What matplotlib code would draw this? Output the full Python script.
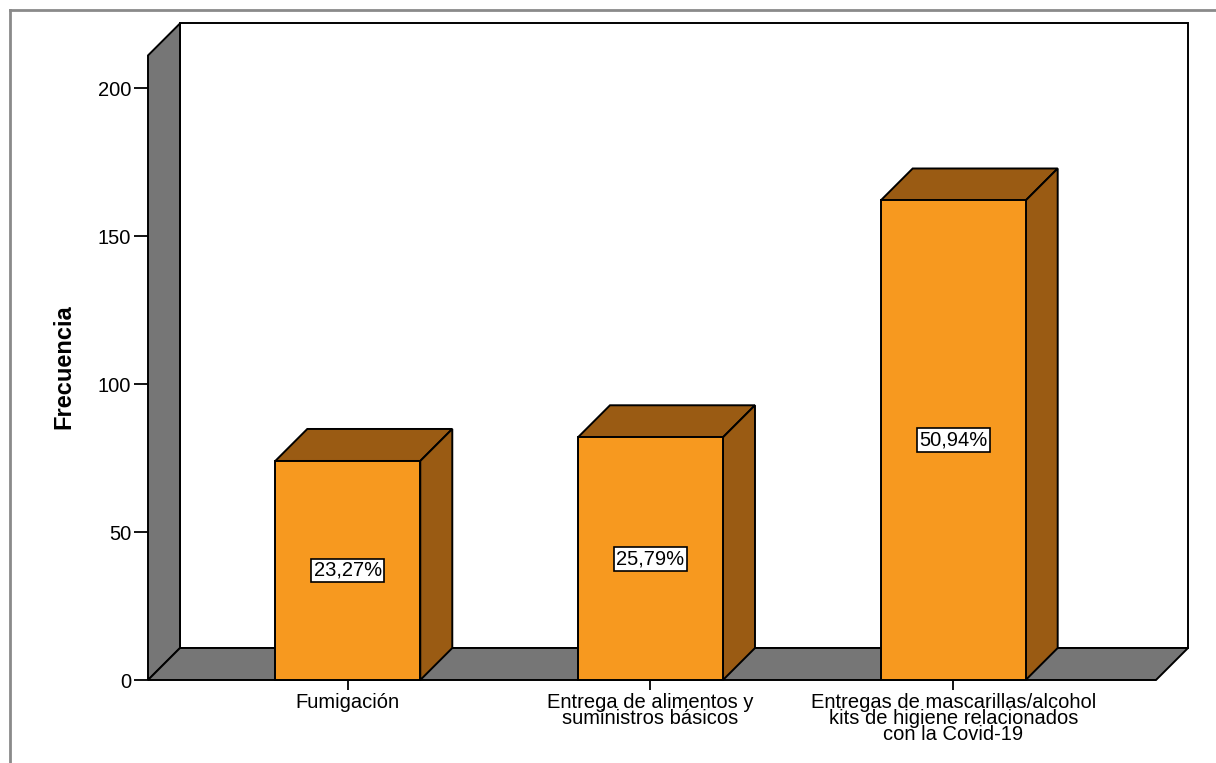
import matplotlib
matplotlib.use("Agg")
import matplotlib.pyplot as plt
from matplotlib.patches import Polygon, Rectangle
from matplotlib.lines import Line2D

categories = ["Fumigación",
              "Entrega de alimentos y\nsuministros básicos",
              "Entregas de mascarillas/alcohol\nkits de higiene relacionados\ncon la Covid-19"]
freq = [74, 82, 162]
pct_labels = ["23,27%", "25,79%", "50,94%"]
yticks = [0, 50, 100, 150, 200]

plt.rcParams['font.family'] = ['Liberation Sans', 'DejaVu Sans']

W, H = 1216, 763
fig = plt.figure(figsize=(W / 100, H / 100), dpi=100)

# front plane in pixels
px_left, px_right = 148, 1156
px_zero = 680
ppu = 2.96  # pixels per unit on y
ymax = 211.0
xmin, xmax = -0.66, 2.67
ppx = (px_right - px_left) / (xmax - xmin)

ax = fig.add_axes([px_left / W, (H - px_zero) / H, (px_right - px_left) / W, ymax * ppu / H])
ax.set_xlim(xmin, xmax)
ax.set_ylim(0, ymax)
for s in ax.spines.values():
    s.set_visible(False)
ax.patch.set_alpha(0)

dx = 32 / ppx
dy = 32 / ppu

gray = "#767676"
orange = "#F7991F"
brown = "#9A5B13"
lw = 1.4

# back wall
ax.add_patch(Rectangle((xmin + dx, dy), xmax - xmin, ymax, facecolor="white",
                       edgecolor="black", lw=lw, clip_on=False, zorder=1))
# left wall
ax.add_patch(Polygon([(xmin, 0), (xmin + dx, dy), (xmin + dx, ymax + dy), (xmin, ymax)],
                     closed=True, facecolor=gray, edgecolor="black", lw=lw, clip_on=False, zorder=2))
# floor
ax.add_patch(Polygon([(xmin, 0), (xmax, 0), (xmax + dx, dy), (xmin + dx, dy)],
                     closed=True, facecolor=gray, edgecolor="black", lw=lw, clip_on=False, zorder=2))

bw = 145 / ppx
for i, v in enumerate(freq):
    x0 = i - bw / 2
    x1 = i + bw / 2
    ax.add_patch(Rectangle((x0, 0), bw, v, facecolor=orange, edgecolor="black",
                           lw=lw, clip_on=False, zorder=4))
    ax.add_patch(Polygon([(x0, v), (x1, v), (x1 + dx, v + dy), (x0 + dx, v + dy)],
                         closed=True, facecolor=brown, edgecolor="black", lw=lw,
                         clip_on=False, zorder=3))
    ax.add_patch(Polygon([(x1, 0), (x1 + dx, dy), (x1 + dx, v + dy), (x1, v)],
                         closed=True, facecolor=brown, edgecolor="black", lw=lw,
                         clip_on=False, zorder=3))
    ax.text(i, v / 2, pct_labels[i], ha="center", va="center", fontsize=14.5, zorder=6,
            bbox=dict(boxstyle="square,pad=0.12", facecolor="white", edgecolor="black", lw=1.2))

ax.set_yticks(yticks)
ax.set_yticklabels([str(t) for t in yticks], fontsize=14.5)
ax.tick_params(axis="y", length=10, width=1.3, pad=2, color="black")
ax.set_xticks(range(len(categories)))
ax.set_xticklabels(categories, fontsize=14.5, linespacing=0.82)
ax.tick_params(axis="x", length=7.5, width=1.3, pad=1.5, color="black")
for lab in ax.get_xticklabels():
    lab.set_multialignment("center")

fig.text(64 / W, 1 - 367 / H, "Frecuencia", rotation=90, ha="center", va="center",
         fontsize=17, fontweight="bold")

# outer frame (partially visible)
fig.add_artist(Line2D([10 / W, 10 / W], [0, 1 - 10 / H], color="#8a8a8a", lw=2))
fig.add_artist(Line2D([10 / W, 1], [1 - 10 / H, 1 - 10 / H], color="#8a8a8a", lw=2))

fig.savefig("out.png", dpi=100)
